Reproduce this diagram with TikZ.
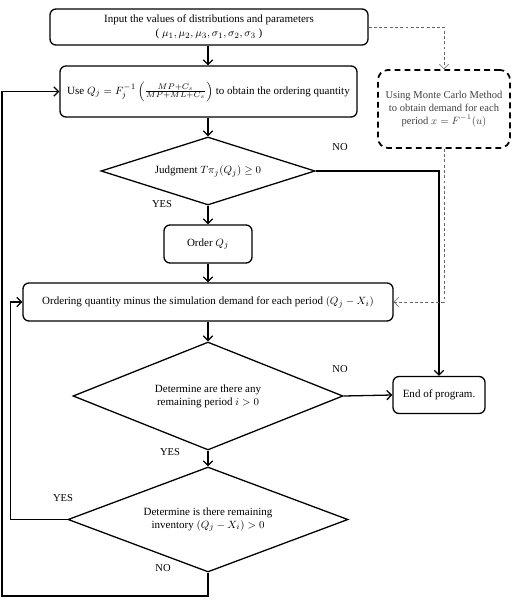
\documentclass[tikz,border=0pt]{standalone}
\usepackage{amsmath}
\usepackage{amssymb}
\usepackage{fontspec}
\setmainfont{Liberation Serif}
\usepackage{tikz}
\usetikzlibrary{calc}
\usetikzlibrary{shapes.geometric,arrows.meta,positioning}

\tikzset{
    flowbox/.style={draw, line width=1.1pt, rounded corners=0.18cm, align=center, inner sep=2pt},
    decide/.style={draw, diamond, line width=1.1pt, align=center, inner sep=0pt},
    mcbox/.style={draw, line width=1.5pt, dash pattern=on 5pt off 3.5pt, rounded corners=0.3cm, align=center, text=black!75,
        font=\fontsize{9}{11.2}\selectfont},
    flow/.style={line width=1.1pt, -{Straight Barb[length=4pt,width=8pt]}},
    simflow/.style={black!60, line width=0.5pt, dash pattern=on 2.5pt off 2pt, -{Straight Barb[length=4pt,width=8pt]}},
    answer/.style={font=\fontsize{9}{10}\selectfont}
}

\begin{document}
\begin{tikzpicture}[x=0.03cm, y=-0.03cm, font=\fontsize{9.4}{11.2}\selectfont]
        \useasboundingbox (0, 0) rectangle (513, 600);

        \node[flowbox, minimum width=9.54cm, minimum height=1.08cm] (input) at (209, 27)
            {Input the values of distributions and parameters\\[1pt]( $\mu_1, \mu_2, \mu_3, \sigma_1, \sigma_2, \sigma_3$ )};
        \node[flowbox, minimum width=8.91cm, minimum height=1.53cm] (useq) at (208.5, 91.5)
            {Use $Q_j = F_j^{-1}\left(\frac{MP+C_s}{MP+ML+C_s}\right)$ to obtain the ordering quantity};
        \node[decide, aspect=3.15, minimum width=6.42cm, minimum height=2.04cm] (judge) at (208, 171)
            {Judgment $T\pi_j(Q_j) \geq 0$};
        \node[flowbox, minimum width=2.64cm, minimum height=1.14cm] (order) at (208, 244) {Order $Q_j$};
        \node[flowbox, minimum width=11.1cm, minimum height=1.14cm] (ordering) at (208, 302)
            {Ordering quantity minus the simulation demand for each period $(Q_j - X_i)$};
        \node[decide, aspect=2.5, minimum width=8.1cm, minimum height=3.24cm] (period) at (208, 396)
            {Determine are there any\\remaining period $i > 0$};
        \node[flowbox, minimum width=2.76cm, minimum height=1.11cm] (finish) at (439, 395) {End of program.};
        \node[decide, aspect=2.67, minimum width=8.4cm, minimum height=3.15cm] (stock) at (208, 519.5)
            {Determine is there remaining\\inventory $(Q_j - X_i) > 0$};
        \node[mcbox, minimum width=3.96cm, minimum height=2.34cm] (monte) at (444, 109)
            {Using Monte Carlo Method\\to obtain demand for each\\period $x = F^{-1}(u)$};

        \coordinate (loop) at (2, 596);

        \draw[flow] (input.south -| judge.north) -- (judge.north |- useq.north);
        \draw[flow] (useq.south -| judge.north) -- (judge.north);
        \draw[flow] (judge.south) -- (order.north);
        \draw[flow] (order.south) -- (ordering.north);
        \draw[flow] (ordering.south) -- (period.north);
        \draw[flow] (period.south) -- (stock.north);
        \draw[flow] (judge.east) -| (finish.north);
        \draw[flow] (period.east) -- (finish.west);
        \draw[flow] (stock.west) -- ++(-57, 0) |- (ordering.west);
        \draw[flow] (stock.south) |- (loop) |- (useq.west);

        \draw[simflow] (input.east) -| (monte.north);
        \draw[simflow] (monte.south) |- (ordering.east);

        \node[answer] (judgeno) at (340, 147) {NO};
        \node[answer] (judgeyes) at (162, 204) {YES};
        \node[answer] (periodno) at (340, 369) {NO};
        \node[answer] (periodyes) at (170, 452) {YES};
        \node[answer] (stockyes) at (63, 498) {YES};
        \node[answer] (stockno) at (163, 568) {NO};
    \end{tikzpicture}
\end{document}
